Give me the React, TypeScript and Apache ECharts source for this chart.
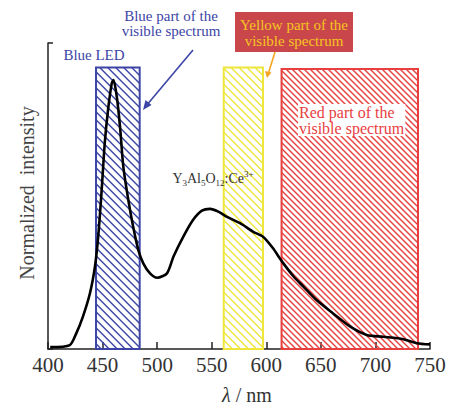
import React, { useEffect, useRef } from "react";
import * as echarts from "echarts";

const wavelengths = [402, 420, 426, 432, 438.5, 443, 446, 449, 452, 455, 458.4, 460, 463, 466, 469, 473.6, 478, 482.7, 487.3, 493.5, 500, 509, 515, 524, 533, 541, 548.5, 556, 564, 576, 588, 597, 606, 614, 625, 634, 646, 661, 677, 692, 707, 725.5, 738, 750];
const intensity = [0.006, 0.013, 0.052, 0.106, 0.183, 0.269, 0.367, 0.51, 0.673, 0.781, 0.868, 0.879, 0.825, 0.726, 0.596, 0.487, 0.4, 0.324, 0.28, 0.247, 0.233, 0.247, 0.302, 0.367, 0.422, 0.452, 0.458, 0.449, 0.432, 0.411, 0.383, 0.367, 0.33, 0.288, 0.237, 0.204, 0.16, 0.117, 0.073, 0.046, 0.04, 0.032, 0.019, 0.015];

const xTicks = [400, 450, 500, 550, 600, 650, 700, 750];

const bandNames = ["blue", "yellow", "red"];
const bandStart = [444, 561, 614];
const bandEnd = [484, 597, 739];
const bandTop = [0.92, 0.92, 0.915];
const bandColors = ["#3c45a6", "#eee63a", "#e8403f"];
const hatchGap = [8, 8, 6];

const SERIF = "Liberation Serif";

export default function App() {
  const ref = useRef<HTMLDivElement>(null);
  useEffect(() => {
    const chart = echarts.init(ref.current!, null, { renderer: "svg" });
    const bandData = bandNames.map((n, i) => [bandStart[i], bandEnd[i], bandTop[i], i]);
    const option: any = {
      animation: false,
      textStyle: { fontFamily: SERIF },
      grid: { left: 48, right: 22, top: 43, bottom: 59 },
      xAxis: {
        type: "value",
        min: xTicks[0],
        max: xTicks[xTicks.length - 1],
        interval: 50,
        axisLine: { lineStyle: { color: "#222", width: 1.5 } },
        axisTick: { inside: true, length: 7, lineStyle: { color: "#222", width: 1.5 } },
        axisLabel: { fontFamily: SERIF, fontSize: 21, color: "#333", margin: 5 },
        splitLine: { show: false },
      },
      yAxis: {
        type: "value",
        min: 0,
        max: 1,
        interval: 1,
        axisLine: { show: true, lineStyle: { color: "#222", width: 1.5 } },
        axisTick: { show: true, inside: true, length: 5, lineStyle: { color: "#222", width: 1.5 } },
        axisLabel: { show: false },
        splitLine: { show: false },
      },
      series: [
        {
          type: "custom",
          z: 1,
          clip: false,
          data: bandData,
          renderItem: (params: any, api: any) => {
            const x0v = api.value(0), x1v = api.value(1), topv = api.value(2), idx = api.value(3);
            const p0 = api.coord([x0v, topv]);
            const p1 = api.coord([x1v, 0]);
            const x0 = p0[0], y0 = p0[1], x1 = p1[0], y1 = p1[1];
            const color = bandColors[idx];
            const gap = hatchGap[idx];
            const children: any[] = [];
            for (let c = y0 - x1; c <= y1 - x0; c += gap) {
              const lo = Math.max(x0, y0 - c);
              const hi = Math.min(x1, y1 - c);
              if (hi > lo) {
                children.push({
                  type: "line",
                  shape: { x1: lo, y1: lo + c, x2: hi, y2: hi + c },
                  style: { stroke: color, lineWidth: 1.4 },
                });
              }
            }
            children.push({
              type: "rect",
              shape: { x: x0, y: y0, width: x1 - x0, height: y1 - y0 },
              style: { fill: "none", stroke: color, lineWidth: 2 },
            });
            return { type: "group", children };
          },
        },
        {
          type: "line",
          z: 5,
          data: wavelengths.map((w, i) => [w, intensity[i]]),
          showSymbol: false,
          smooth: 0.25,
          lineStyle: { color: "#000", width: 2.6 },
        },
      ],
      graphic: [
        {
          type: "text",
          x: 27,
          y: 193,
          rotation: Math.PI / 2,
          style: {
            text: "Normalized  intensity",
            fontFamily: SERIF,
            fontSize: 20,
            fill: "#444",
            textAlign: "center",
            textVerticalAlign: "middle",
          },
        },
        {
          type: "text",
          x: 247,
          y: 395,
          style: {
            text: "{i|λ} / nm",
            rich: {
              i: { fontFamily: SERIF, fontSize: 20, fontStyle: "italic", fill: "#333" },
            },
            fontFamily: SERIF,
            fontSize: 20,
            fill: "#333",
            textAlign: "center",
            textVerticalAlign: "middle",
          },
        },
        {
          type: "text",
          x: 94,
          y: 55,
          style: {
            text: "Blue LED",
            fontFamily: SERIF,
            fontSize: 15,
            fill: "#3c45a6",
            textAlign: "center",
            textVerticalAlign: "middle",
          },
        },
        {
          type: "text",
          x: 171,
          y: 23,
          style: {
            text: "Blue part of the\nvisible spectrum",
            fontFamily: SERIF,
            fontSize: 15,
            lineHeight: 15,
            fill: "#3c45a6",
            textAlign: "center",
            textVerticalAlign: "middle",
          },
        },
        {
          type: "line",
          shape: { x1: 193, y1: 50, x2: 146, y2: 106 },
          style: { stroke: "#3c45a6", lineWidth: 1.6 },
        },
        {
          type: "polygon",
          shape: { points: [[143, 110], [151.5, 105], [145.5, 100]] },
          style: { fill: "#3c45a6" },
        },
        {
          type: "rect",
          shape: { x: 235, y: 12, width: 118, height: 40 },
          style: { fill: "#c9474b" },
        },
        {
          type: "text",
          x: 294,
          y: 33,
          style: {
            text: "Yellow part of the\nvisible spectrum",
            fontFamily: SERIF,
            fontSize: 15,
            lineHeight: 16,
            fill: "#f6c51f",
            textAlign: "center",
            textVerticalAlign: "middle",
          },
        },
        {
          type: "line",
          shape: { x1: 275, y1: 52, x2: 268.5, y2: 73 },
          style: { stroke: "#f5a623", lineWidth: 1.6 },
        },
        {
          type: "polygon",
          shape: { points: [[267, 78], [265, 71], [271.5, 72.5]] },
          style: { fill: "#f5a623" },
        },
        {
          type: "text",
          x: 298,
          y: 120,
          z: 10,
          style: {
            text: "Red part of the\nvisible spectrum",
            fontFamily: SERIF,
            fontSize: 16,
            lineHeight: 16,
            fill: "#e8403f",
            backgroundColor: "#fff",
            padding: [0, 1],
            textAlign: "left",
            textVerticalAlign: "middle",
          },
        },
        {
          type: "text",
          x: 213,
          y: 178,
          z: 10,
          style: {
            text: "{n|Y}{s|3}{n|Al}{s|5}{n|O}{s|12}{n|:Ce}{p|3+}",
            rich: {
              n: { fontFamily: SERIF, fontSize: 14, fill: "#333", lineHeight: 18, verticalAlign: "middle" },
              s: { fontFamily: SERIF, fontSize: 9, fill: "#333", lineHeight: 18, verticalAlign: "bottom", padding: [6, 0, 0, 0] },
              p: { fontFamily: SERIF, fontSize: 9, fill: "#333", lineHeight: 18, verticalAlign: "top", padding: [0, 0, 8, 0] },
            },
            textAlign: "center",
            textVerticalAlign: "middle",
          },
        },
      ],
    };
    chart.setOption(option);
    return () => chart.dispose();
  }, []);
  return (
    <div
      ref={ref}
      style={{ position: "fixed", left: 0, top: 0, width: 452, height: 408, background: "#fff" }}
    />
  );
}
